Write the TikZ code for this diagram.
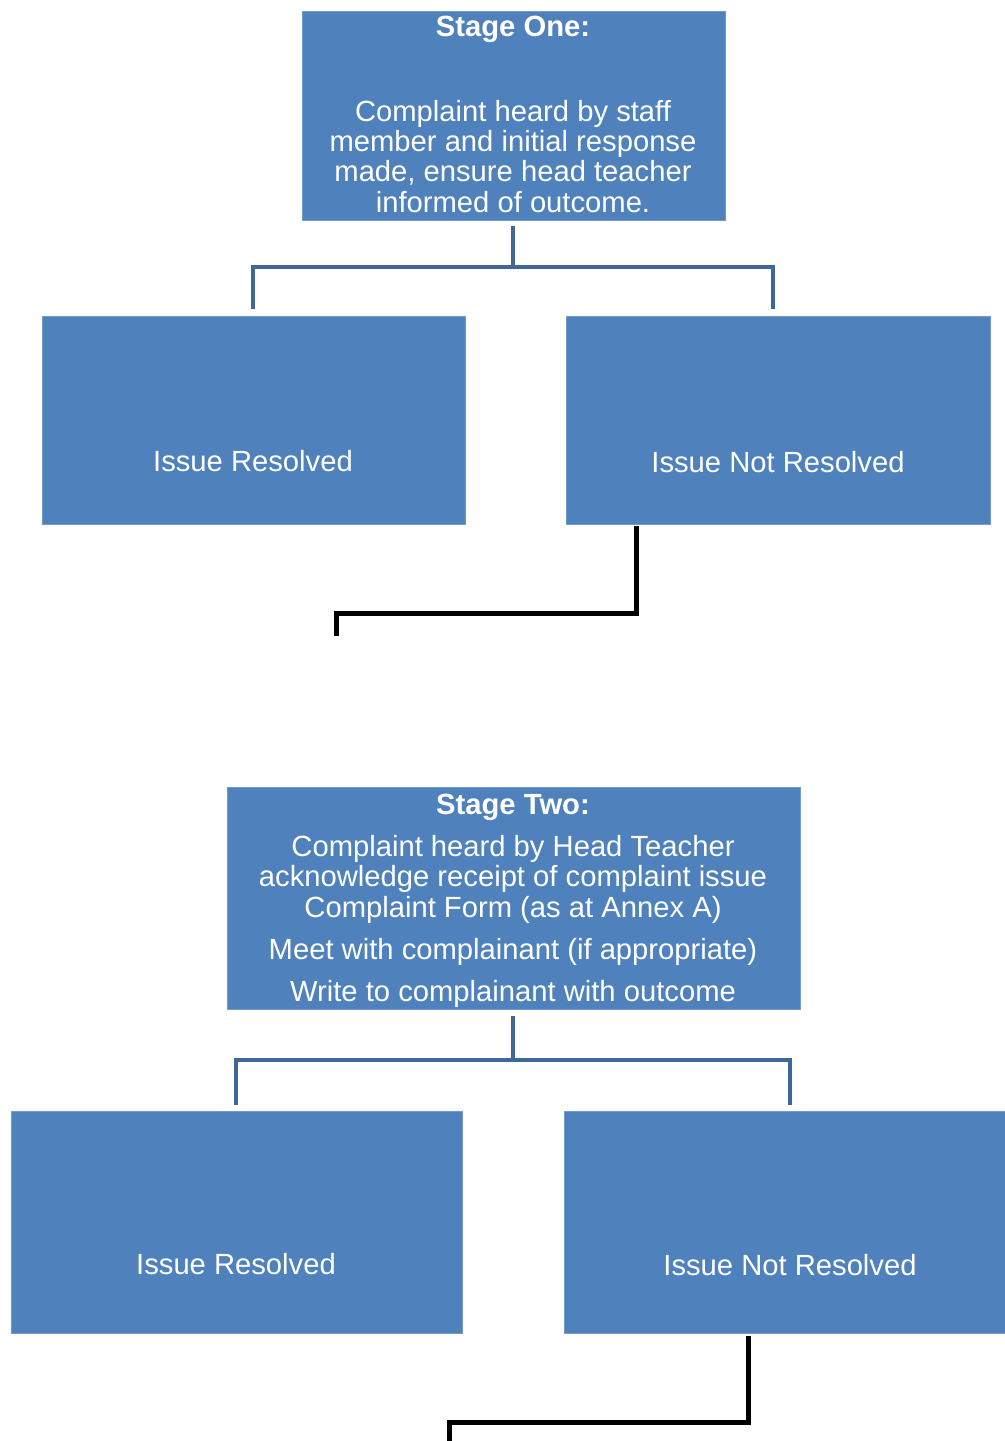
\documentclass[tikz,border=0pt]{standalone}
\usepackage{fontspec}
\setmainfont{Liberation Sans}
\definecolor{boxblue}{HTML}{4F81BD}
\definecolor{linkblue}{HTML}{3F6898}
\begin{document}
\begin{tikzpicture}[x=0.5pt,y=-0.5pt,
  box/.style={fill=boxblue,draw=boxblue!80!white,line width=0.5pt,inner sep=0pt},
  txt/.style={text=white,font=\fontsize{14.6}{16}\selectfont,inner sep=0pt,anchor=base},
  ttl/.style={txt,font=\bfseries\fontsize{14.6}{16}\selectfont},
  bl/.style={draw=linkblue,line width=2pt},
  blk/.style={draw=black,line width=2.5pt}]
\useasboundingbox (0,0) rectangle (1005,1441);
% boxes
\path[box] (302,11) rectangle (725,220);
\coordinate (s1b) at (513,226);
\path[box] (42,316) rectangle (465,524);
\coordinate (r1t) at (253,309);
\path[box] (566,316) rectangle (990,524);
\coordinate (n1t) at (773,309);
\coordinate (n1b) at (636,526);
\coordinate (e1) at (336,636);
\path[box] (227,787) rectangle (800,1009);
\coordinate (s2b) at (513,1016);
\path[box] (11,1111) rectangle (462,1333);
\coordinate (r2t) at (236,1105);
\path[box] (564,1111) rectangle (1005,1333);
\coordinate (n2t) at (790,1105);
\coordinate (n2b) at (748,1336);
\coordinate (e2) at (449,1441);
% texts
\node[ttl] (t1) at (513,36) {Stage One:};
\node[txt] (t1a) at (513,121) {Complaint heard by staff};
\node[txt] (t1b) at (513,151) {member and initial response};
\node[txt] (t1c) at (513,181) {made, ensure head teacher};
\node[txt] (t1d) at (513,212) {informed of outcome.};
\node[txt] (r1) at (253,471) {Issue Resolved};
\node[txt] (n1) at (778,472) {Issue Not Resolved};
\node[ttl] (t2) at (513,814) {Stage Two:};
\node[txt] (t2a) at (513,856) {Complaint heard by Head Teacher};
\node[txt] (t2b) at (513,886) {acknowledge receipt of complaint issue};
\node[txt] (t2c) at (513,917) {Complaint Form (as at Annex A)};
\node[txt] (t2d) at (513,959) {Meet with complainant (if appropriate)};
\node[txt] (t2e) at (513,1001) {Write to complainant with outcome};
\node[txt] (r2) at (236,1274) {Issue Resolved};
\node[txt] (n2) at (790,1275) {Issue Not Resolved};
% connectors
\draw[bl] (s1b) -- (513,267) (r1t) |- (513,267) -| (n1t);
\draw[blk] (n1b) |- (336,613) -- (e1);
\draw[bl] (s2b) -- (513,1060) (r2t) |- (513,1060) -| (n2t);
\draw[blk] (n2b) |- (449,1422) -- (e2);
\end{tikzpicture}
\end{document}
